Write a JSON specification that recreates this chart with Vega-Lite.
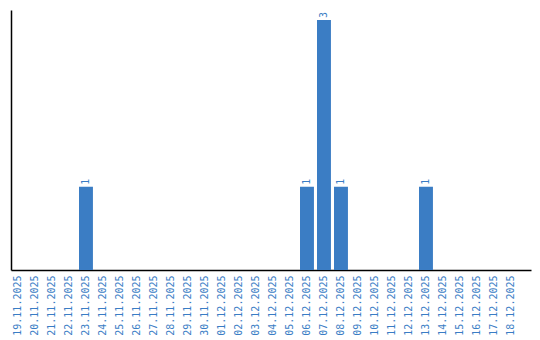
{
  "$schema": "https://vega.github.io/schema/vega-lite/v6.json",
  "width": 520,
  "height": 260,
  "autosize": {"type": "none"},
  "padding": {"left": 11, "top": 10, "right": 9, "bottom": 70},
  "background": "white",
  "config": {"view": {"stroke": null}},
  "data": {"values": [
    {"date": "19.11.2025", "count": 0},
    {"date": "20.11.2025", "count": 0},
    {"date": "21.11.2025", "count": 0},
    {"date": "22.11.2025", "count": 0},
    {"date": "23.11.2025", "count": 1},
    {"date": "24.11.2025", "count": 0},
    {"date": "25.11.2025", "count": 0},
    {"date": "26.11.2025", "count": 0},
    {"date": "27.11.2025", "count": 0},
    {"date": "28.11.2025", "count": 0},
    {"date": "29.11.2025", "count": 0},
    {"date": "30.11.2025", "count": 0},
    {"date": "01.12.2025", "count": 0},
    {"date": "02.12.2025", "count": 0},
    {"date": "03.12.2025", "count": 0},
    {"date": "04.12.2025", "count": 0},
    {"date": "05.12.2025", "count": 0},
    {"date": "06.12.2025", "count": 1},
    {"date": "07.12.2025", "count": 3},
    {"date": "08.12.2025", "count": 1},
    {"date": "09.12.2025", "count": 0},
    {"date": "10.12.2025", "count": 0},
    {"date": "11.12.2025", "count": 0},
    {"date": "12.12.2025", "count": 0},
    {"date": "13.12.2025", "count": 1},
    {"date": "14.12.2025", "count": 0},
    {"date": "15.12.2025", "count": 0},
    {"date": "16.12.2025", "count": 0},
    {"date": "17.12.2025", "count": 0},
    {"date": "18.12.2025", "count": 0}
  ]},
  "encoding": {
    "x": {
      "field": "date", "type": "nominal", "sort": null,
      "scale": {"paddingInner": 0.18, "paddingOuter": 0.384, "align": 0},
      "axis": {
        "title": null, "ticks": false, "labelAngle": -90, "labelAlign": "right",
        "labelBaseline": "middle", "labelPadding": 5,
        "labelFont": "DejaVu Sans Mono", "labelFontSize": 10, "labelColor": "#3a7dc5",
        "domainColor": "black", "domainWidth": 1.5, "grid": false
      }
    },
    "y": {
      "field": "count", "type": "quantitative",
      "scale": {"domain": [0, 3.12], "nice": false},
      "axis": {
        "title": null, "ticks": false, "labels": false, "grid": false,
        "domainColor": "black", "domainWidth": 1.5
      }
    }
  },
  "layer": [
    {"mark": {"type": "bar", "color": "#3b7dc4"}},
    {
      "transform": [{"filter": "datum.count > 0"}],
      "mark": {"type": "text", "angle": -90, "align": "left", "baseline": "middle", "dx": 2,
               "font": "DejaVu Sans Mono", "fontSize": 10, "color": "#3a7dc5"},
      "encoding": {"text": {"field": "count", "type": "quantitative"}}
    }
  ]
}
